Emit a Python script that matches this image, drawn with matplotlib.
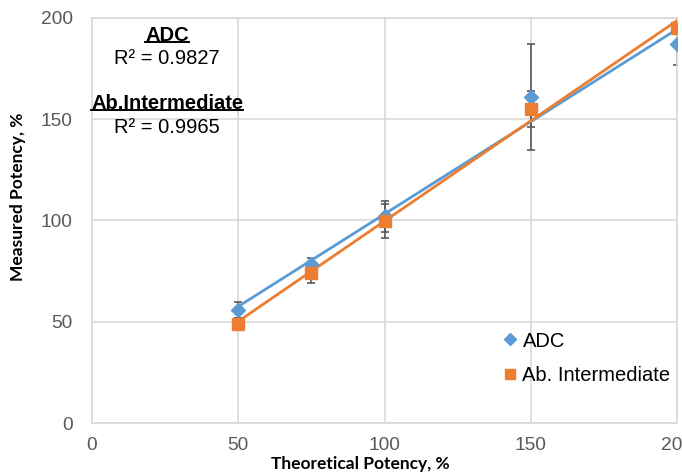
import matplotlib
matplotlib.use('Agg')
import matplotlib.pyplot as plt
import numpy as np
from matplotlib.lines import Line2D

# theoretical potency (%) and measured values
theoretical = [50, 75, 100, 150, 200]
adc_measured = [55.8, 78.5, 102.0, 161.0, 187.0]
adc_err = [4.0, 3.0, 7.6, 26.0, 10.0]
ab_measured = [49.0, 74.0, 99.8, 155.0, 195.0]
ab_err = [3.0, 5.0, 8.2, 9.0, 2.0]
r2_labels = ['R² = 0.9827', 'R² = 0.9965']

blue = '#5B9BD5'
orange = '#ED7D31'
grey = '#595959'

fig = plt.figure(figsize=(6.82, 4.73), dpi=100)
ax = fig.add_axes([0.1349, 0.1057, 0.8578, 0.8563])

x = np.array(theoretical)

# trendlines
for yv, col in [(adc_measured, blue), (ab_measured, orange)]:
    k, b = np.polyfit(x, yv, 1)
    xs = np.array([x.min(), x.max()])
    ax.plot(xs, k * xs + b, color=col, lw=2, zorder=3)

ax.errorbar(x, adc_measured, yerr=adc_err, fmt='none', ecolor=grey,
            elinewidth=1.2, capsize=3, capthick=1.2, zorder=2)
ax.errorbar(x, ab_measured, yerr=ab_err, fmt='none', ecolor=grey,
            elinewidth=1.2, capsize=3, capthick=1.2, zorder=2)
ax.plot(x, adc_measured, 'D', color=blue, ms=7, ls='none', zorder=4, label='ADC')
ax.plot(x, ab_measured, 's', color=orange, ms=8, ls='none', zorder=4,
        label='Ab. Intermediate')

ax.set_xlim(0, 200)
ax.set_ylim(0, 200)
ax.set_xticks([0, 50, 100, 150, 200])
ax.set_yticks([0, 50, 100, 150, 200])
ax.grid(True, color='#D9D9D9', lw=1.2)
ax.set_axisbelow(True)
for s in ax.spines.values():
    s.set_color('#D9D9D9')
    s.set_linewidth(1.2)
ax.tick_params(length=0, labelsize=13.8, colors=grey)
ax.tick_params(axis='y', pad=14)
ax.tick_params(axis='x', pad=10)
for lab in ax.get_xticklabels() + ax.get_yticklabels():
    lab.set_fontfamily('Liberation Sans')

fig.text(0.529, 0.019, 'Theoretical Potency, %', fontsize=12.5, fontweight='bold',
         family='Lato', ha='center', va='center')
fig.text(0.027, 0.583, 'Measured Potency, %', fontsize=12.5, fontweight='bold',
         family='Lato', ha='center', va='center', rotation=90)

leg = ax.legend(loc='lower right', bbox_to_anchor=(1.02, 0.05), frameon=False,
                prop={'family': 'Liberation Sans', 'size': 14.5},
                handlelength=0.5, handletextpad=0.35, labelspacing=0.75,
                markerscale=0.85)

# R² annotations with underlined headers
heads = ['ADC', 'Ab.Intermediate']
head_y = [0.926, 0.782]
r2_y = [0.877, 0.731]
fig.canvas.draw()
rend = fig.canvas.get_renderer()
for h, hy, r, ry in zip(heads, head_y, r2_labels, r2_y):
    t = fig.text(0.245, hy, h, fontsize=14.5, fontweight='bold',
                 family='Liberation Sans', ha='center', va='center')
    fig.text(0.245, ry, r, fontsize=14.5, family='Liberation Sans',
             ha='center', va='center')
    bb = t.get_window_extent(renderer=rend).transformed(fig.transFigure.inverted())
    fig.add_artist(Line2D([bb.x0, bb.x1], [bb.y0 + 0.005, bb.y0 + 0.005],
                          color='black', lw=1.4, transform=fig.transFigure))

fig.savefig('out.png', dpi=100)
